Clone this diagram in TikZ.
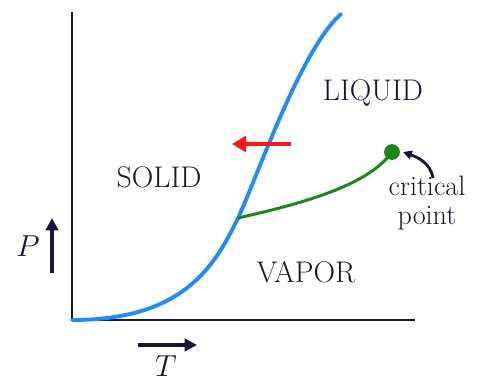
\documentclass[tikz,border=0pt]{standalone}
\usepackage{xcolor}
\definecolor{phnavy}{RGB}{22,22,60}
\definecolor{phblue}{RGB}{30,140,250}
\definecolor{phgreen}{RGB}{25,135,25}
\definecolor{phred}{RGB}{250,25,25}
\usetikzlibrary{arrows.meta}

\begin{document}
\begin{tikzpicture}[x=0.02cm, y=-0.02cm,
        phase/.style={font=\fontsize{17}{20}\selectfont, text=phnavy},
        axis/.style={draw=phnavy, line width=1.6pt},
        dirarrow/.style={draw=phnavy, line width=1.8pt, -{Triangle[length=7pt, width=7pt]}}
      ]
        \useasboundingbox (0,0) rectangle (484,380);

        % Axes
        \coordinate (top) at (72,12);
        \coordinate (orig) at (72,320);
        \coordinate (right) at (415,320);
        \draw[axis] (top) -- (orig) -- (right);

        % Sublimation / melting curve
        \coordinate (triple) at (238,218);
        \coordinate (tip) at (341,14);
        \draw[phblue, line width=2.2pt, line cap=round]
          (orig) .. controls (182,320) and (214,268) .. (triple)
                 .. controls (255,183) and (300,50) .. (tip);

        % Vaporization curve
        \node[circle, fill=phgreen, inner sep=0pt, minimum size=9pt] (crit) at (392,152) {};
        \draw[phgreen, line width=1.7pt] (triple) .. controls (300,204) and (368,186) .. (crit.center);

        % Pressure arrow
        \coordinate (redA) at (291,144);
        \coordinate (redB) at (232,144);
        \draw[phred, line width=2.2pt, -{Triangle[length=8pt, width=9pt]}] (redA) -- (redB);

        % Labels
        \node[phase] (liquid) at (373,93)  {LIQUID};
        \node[phase] (solid)  at (159,177) {SOLID};
        \node[phase] (vapor)  at (306,272) {VAPOR};
        \node[phase, align=center, font=\fontsize{16}{17}\selectfont] (critlbl) at (427,203) {critical\\point};
        \draw[phnavy, line width=1.6pt, -{Triangle[length=5pt, width=5pt]}]
          (433,178) to[out=100, in=-20] (403,152);

        % P and T
        \coordinate (pA) at (52,273);
        \coordinate (pB) at (52,218);
        \draw[dirarrow] (pA) -- (pB);
        \node[phase] (plbl) at (28,246) {$P$};
        \coordinate (tA) at (138,345);
        \coordinate (tB) at (197,345);
        \draw[dirarrow] (tA) -- (tB);
        \node[phase] (tlbl) at (166,366) {$T$};
      \end{tikzpicture}
\end{document}
